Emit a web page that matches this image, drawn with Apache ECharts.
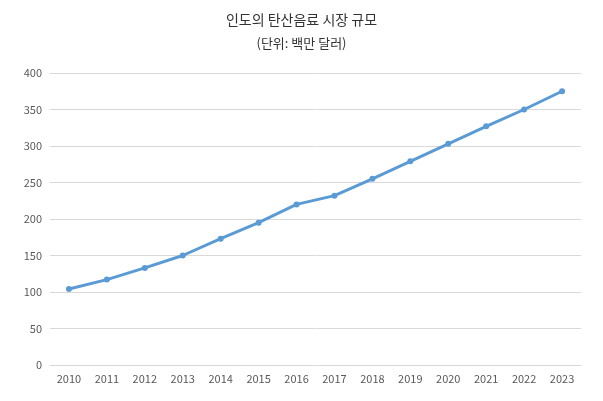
<!DOCTYPE html>
<html>
<head>
<meta charset="utf-8">
<script src="https://cdn.jsdelivr.net/npm/echarts@6/dist/echarts.min.js"></script>
<style>html,body{margin:0;padding:0;background:#fff}#main{width:603px;height:401px}</style>
</head>
<body>
<div id="main"></div>
<script>
// 데이터
var years = ['2010','2011','2012','2013','2014','2015','2016','2017','2018','2019','2020','2021','2022','2023'];
var marketSize = [104, 117, 133, 150, 173, 195, 220, 232, 255, 279, 303, 327, 350, 375];

var myChart = echarts.init(document.getElementById('main'));
var font = '"Noto Sans CJK KR", sans-serif';

var option = {
    title: {
        text: '인도의 탄산음료 시장 규모',
        subtext: '(단위: 백만 달러)',
        left: 'center',
        top: 8,
        itemGap: 10,
        textStyle: { fontSize: 14, fontWeight: 'normal', color: '#333', fontFamily: font },
        subtextStyle: { fontSize: 13, color: '#333', fontFamily: font }
    },
    grid: { left: 50, right: 22, top: 73, bottom: 36 },
    xAxis: {
        type: 'category',
        data: years,
        boundaryGap: true,
        axisLine: { lineStyle: { color: '#d9d9d9' } },
        axisTick: { show: false },
        axisLabel: { color: '#595959', fontSize: 11, fontFamily: font }
    },
    yAxis: {
        type: 'value',
        min: 0, max: 400, interval: 50,
        axisLine: { show: false },
        axisTick: { show: false },
        splitLine: { lineStyle: { color: '#d9d9d9' } },
        axisLabel: { color: '#595959', fontSize: 11, fontFamily: font }
    },
    series: [{
        type: 'line',
        data: marketSize,
        symbol: 'circle',
        symbolSize: 6,
        lineStyle: { color: '#5b9bd5', width: 3 },
        itemStyle: { color: '#5b9bd5' }
    }]
};
myChart.setOption(option);
</script>
</body>
</html>
